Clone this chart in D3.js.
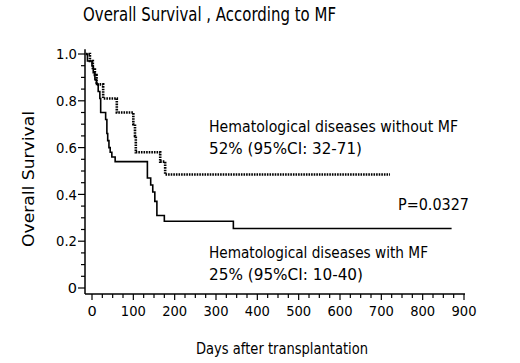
<!DOCTYPE html>
<html><head><meta charset="utf-8">
<script src="https://cdn.jsdelivr.net/npm/d3@7"></script>
<style>
body{margin:0;background:#fff;}
svg{display:block;}
text{font-family:"DejaVu Sans",sans-serif;fill:#000;}
</style></head>
<body><svg id="chart" width="520" height="363"></svg>
<script>
// ---- data ----
const withoutMF_days = [-15, -5, 2, 7, 11, 27, 60, 100, 104, 106, 165, 177, 721];
const withoutMF_surv = [1.0, 0.97, 0.94, 0.91, 0.87, 0.81, 0.75, 0.70, 0.65, 0.58, 0.54, 0.485, 0.485];
const withMF_days = [-15, -11, 0, 3, 7, 11, 15, 19, 21, 33, 36, 38, 41, 44, 48, 56, 134, 142, 147, 152, 157, 175, 342, 870];
const withMF_surv = [1.0, 0.97, 0.95, 0.92, 0.89, 0.87, 0.84, 0.81, 0.75, 0.72, 0.66, 0.63, 0.60, 0.58, 0.56, 0.54, 0.47, 0.44, 0.41, 0.37, 0.31, 0.285, 0.254, 0.254];
const xTickValues = [0, 100, 200, 300, 400, 500, 600, 700, 800, 900];
const yTickValues = [0, 0.2, 0.4, 0.6, 0.8, 1.0];
const yTickLabels = ["0", "0.2", "0.4", "0.6", "0.8", "1.0"];
const titleText = "Overall Survival , According to MF";
const xTitle = "Days after transplantation";
const yTitle = "Overall Survival";
const annWithout = ["Hematological diseases without MF", "52% (95%CI: 32-71)"];
const annWith = ["Hematological diseases with MF", "25% (95%CI: 10-40)"];
const pText = "P=0.0327";

const svg = d3.select("#chart");
const x = d3.scaleLinear().domain([0, 900]).range([92, 464]);
const y = d3.scaleLinear().domain([0, 1]).range([288, 54]);
const xAxisY = 294, yAxisX = 85;

// squeeze text to a target width (reference font is taller for its width)
function fit(sel, w){
  sel.attr("textLength", w).attr("lengthAdjust", "spacingAndGlyphs");
  return sel;
}

// axes
const g = svg.append("g");
g.append("line").attr("x1", yAxisX).attr("x2", yAxisX).attr("y1", y(1.02)).attr("y2", xAxisY).attr("stroke","#000").attr("stroke-width",1.5);
g.append("line").attr("x1", yAxisX).attr("x2", x(900)+1).attr("y1", xAxisY).attr("y2", xAxisY).attr("stroke","#000").attr("stroke-width",1.5);
// y ticks (major + minor)
const yMinor = d3.range(0, 1.0001, 0.05);
g.selectAll(".ymt").data(yMinor).join("line")
  .attr("x1", d => Math.abs(Math.round(d*100)%20) < 1e-6 ? yAxisX-7 : yAxisX-4).attr("x2", yAxisX)
  .attr("y1", d => y(d)).attr("y2", d => y(d)).attr("stroke","#000").attr("stroke-width",1.2);
g.selectAll(".ytl").data(yTickValues).join("text")
  .attr("x", yAxisX-8).attr("y", d => y(d)).attr("dy","0.36em").attr("text-anchor","end")
  .attr("font-size", 14.5).text((d,i) => yTickLabels[i])
  .each(function(d,i){ if (yTickLabels[i].length === 3) fit(d3.select(this), 21); });
// x ticks
const xMinor = d3.range(0, 901, 25);
g.selectAll(".xmt").data(xMinor).join("line")
  .attr("x1", d => x(d)).attr("x2", d => x(d))
  .attr("y1", xAxisY).attr("y2", d => d%100===0 ? xAxisY+6 : xAxisY+4).attr("stroke","#000").attr("stroke-width",1.2);
g.selectAll(".xtl").data(xTickValues).join("text")
  .attr("x", d => x(d)).attr("y", 316).attr("text-anchor","middle")
  .attr("font-size", 14.5).text(d => d)
  .each(function(d){ if (String(d).length === 3) fit(d3.select(this), 25); });

// curves
const line = d3.line().x(d => x(d[0])).y(d => y(d[1])).curve(d3.curveStepAfter);
svg.append("path").datum(withMF_days.map((d,i)=>[d, withMF_surv[i]]))
  .attr("d", line).attr("fill","none").attr("stroke","#000").attr("stroke-width",1.6);
svg.append("path").datum(withoutMF_days.map((d,i)=>[d, withoutMF_surv[i]]))
  .attr("d", line).attr("fill","none").attr("stroke","#000").attr("stroke-width",2.6).attr("stroke-dasharray","1.6,1");

// titles
fit(svg.append("text").attr("x", 83).attr("y", 21).attr("font-size", 19).text(titleText), 253);
fit(svg.append("text").attr("x", 196).attr("y", 354).attr("font-size", 16.5).text(xTitle), 172);
fit(svg.append("text").attr("transform","translate(34,247) rotate(-90)").attr("font-size", 16.5).text(yTitle), 136);

// annotations
fit(svg.append("text").attr("x", 209).attr("y", 132).attr("font-size", 16.5).text(annWithout[0]), 249);
fit(svg.append("text").attr("x", 209).attr("y", 154).attr("font-size", 16.5).text(annWithout[1]), 153);
fit(svg.append("text").attr("x", 398).attr("y", 210).attr("font-size", 16.5).text(pText), 71);
fit(svg.append("text").attr("x", 209).attr("y", 258).attr("font-size", 16.5).text(annWith[0]), 219);
fit(svg.append("text").attr("x", 209).attr("y", 280).attr("font-size", 16.5).text(annWith[1]), 154);
</script></body></html>
